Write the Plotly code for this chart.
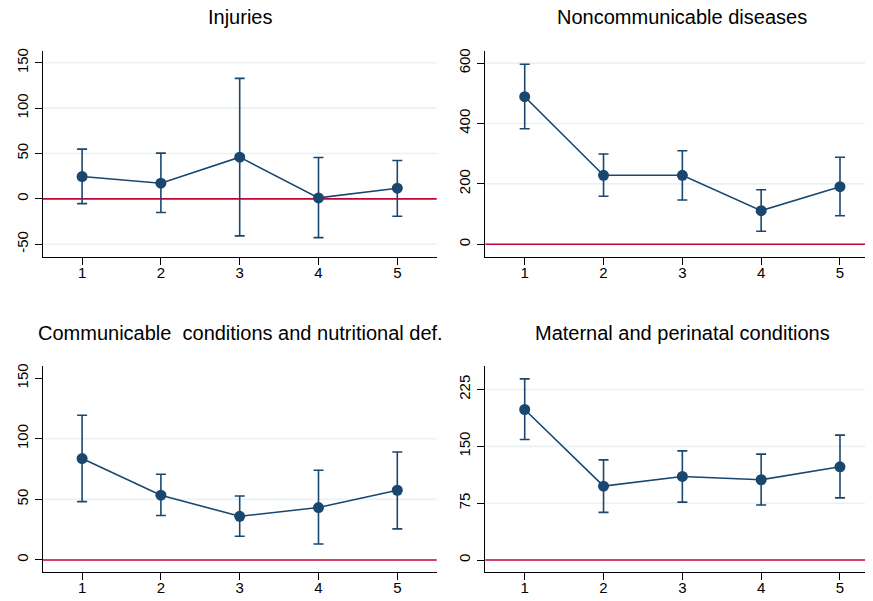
import plotly.graph_objects as go

W, H = 873, 601
OFF = 8  # page body margin offset

groups = [1, 2, 3, 4, 5]

titles = ["Injuries", "Noncommunicable diseases",
          "Communicable  conditions and nutritional def.",
          "Maternal and perinatal conditions"]

inj_mean = [24.6, 17.3, 46.0, 1.1, 11.8]
inj_low = [-5.2, -15.1, -40.8, -42.7, -19.1]
inj_high = [54.8, 50.4, 132.8, 45.6, 42.3]

ncd_mean = [488.7, 228.5, 228.5, 111.3, 190.7]
ncd_low = [382.8, 159.0, 146.7, 43.0, 94.7]
ncd_high = [596.0, 299.0, 310.0, 180.8, 288.0]

ccn_mean = [83.6, 53.4, 36.0, 43.2, 57.5]
ccn_low = [48.1, 36.6, 19.5, 13.2, 25.6]
ccn_high = [119.4, 70.7, 52.8, 74.0, 89.1]

mat_mean = [198.6, 97.5, 110.3, 105.9, 123.0]
mat_low = [159.0, 62.9, 76.4, 72.5, 82.0]
mat_high = [239.0, 132.2, 144.0, 139.7, 164.8]

inj_ticks = [-50, 0, 50, 100, 150]
ncd_ticks = [0, 200, 400, 600]
ccn_ticks = [0, 50, 100, 150]
mat_ticks = [0, 75, 150, 225]

inj_labels = ["-50", "0", "50", "100", "150"]
ncd_labels = ["0", "200", "400", "600"]
ccn_labels = ["0", "50", "100", "150"]
mat_labels = ["0", "75", "150", "225"]

inj_grid = [-50, 50, 100, 150]
ncd_grid = [200, 400, 600]
ccn_grid = [50, 100]
mat_grid = [75, 150, 225]

y_ranges = [[-64.4, 163], [-43, 640], [-10.2, 160], [-16.2, 256]]

NAVY = "#1a476f"
RED = "#c10534"
GRID = "#eaf2f3"
FONT = "Liberation Sans, Arial, sans-serif"

panels = [
    (inj_mean, inj_low, inj_high, inj_ticks, inj_labels, inj_grid),
    (ncd_mean, ncd_low, ncd_high, ncd_ticks, ncd_labels, ncd_grid),
    (ccn_mean, ccn_low, ccn_high, ccn_ticks, ccn_labels, ccn_grid),
    (mat_mean, mat_low, mat_high, mat_ticks, mat_labels, mat_grid),
]

# pixel boxes in the screenshot (left, right, top, bottom)
boxes = [(42.7, 436.7, 51, 257.3), (485.3, 879.4, 51, 257.3),
         (42.7, 436.7, 366, 572.3), (485.3, 879.4, 366, 572.3)]
centers_x = [240, 682, 240, 682]
title_y = [17, 17, 333, 333]

fig = go.Figure()
layout = dict(
    width=W, height=H, margin=dict(l=0, r=0, t=0, b=0),
    paper_bgcolor="white", plot_bgcolor="white", showlegend=False,
    font=dict(family=FONT, size=15, color="#000"),
)
shapes = []
annotations = []
for i, (mean, low, high, ticks, labels, grid) in enumerate(panels):
    n = i + 1
    xa = "x" if n == 1 else f"x{n}"
    ya = "y" if n == 1 else f"y{n}"
    l, r, t, b = [v - OFF for v in boxes[i]]
    layout[f"xaxis{'' if n == 1 else n}"] = dict(
        domain=[l / W, min(r / W, 1)], range=[0.5, 5.5], anchor=ya,
        tickvals=groups, ticks="outside", ticklen=7, tickcolor="#000",
        showline=True, linecolor="#000", linewidth=1, showgrid=False,
        zeroline=False, tickfont=dict(size=15, family=FONT, color="#000"),
        automargin=False, ticklabelstandoff=-5,
    )
    layout[f"yaxis{'' if n == 1 else n}"] = dict(
        domain=[1 - b / H, 1 - t / H], range=y_ranges[i], anchor=xa,
        tickvals=ticks, ticktext=labels, ticks="outside", ticklen=7,
        tickcolor="#000",
        tickangle=-90, showline=True, linecolor="#000", linewidth=1,
        showgrid=False, zeroline=False,
        tickfont=dict(size=15, family=FONT, color="#000"), automargin=False,
        ticklabelstandoff=1,
    )
    for g in grid:
        shapes.append(dict(type="line", xref=f"{xa} domain", yref=ya,
                           x0=0, x1=1, y0=g, y1=g,
                           line=dict(color=GRID, width=1.6), layer="below"))
    shapes.append(dict(type="line", xref=f"{xa} domain", yref=ya,
                       x0=0, x1=1, y0=0, y1=0,
                       line=dict(color=RED, width=1.6), layer="below"))
    fig.add_trace(go.Scatter(
        x=groups, y=mean, xaxis=xa, yaxis=ya, mode="lines+markers",
        line=dict(color=NAVY, width=1.6),
        marker=dict(color=NAVY, size=11),
        error_y=dict(type="data", symmetric=False,
                     array=[h - m for h, m in zip(high, mean)],
                     arrayminus=[m - lo for m, lo in zip(mean, low)],
                     color=NAVY, thickness=1.6, width=5),
    ))
    annotations.append(dict(
        text=titles[i], xref="paper", yref="paper",
        x=(centers_x[i] - OFF) / W,
        y=1 - (title_y[i] - OFF) / H,
        showarrow=False, xanchor="center", yanchor="middle",
        font=dict(size=20, family=FONT, color="#000"),
    ))

layout["shapes"] = shapes
layout["annotations"] = annotations
fig.update_layout(**layout)
fig.write_html("out.html")
